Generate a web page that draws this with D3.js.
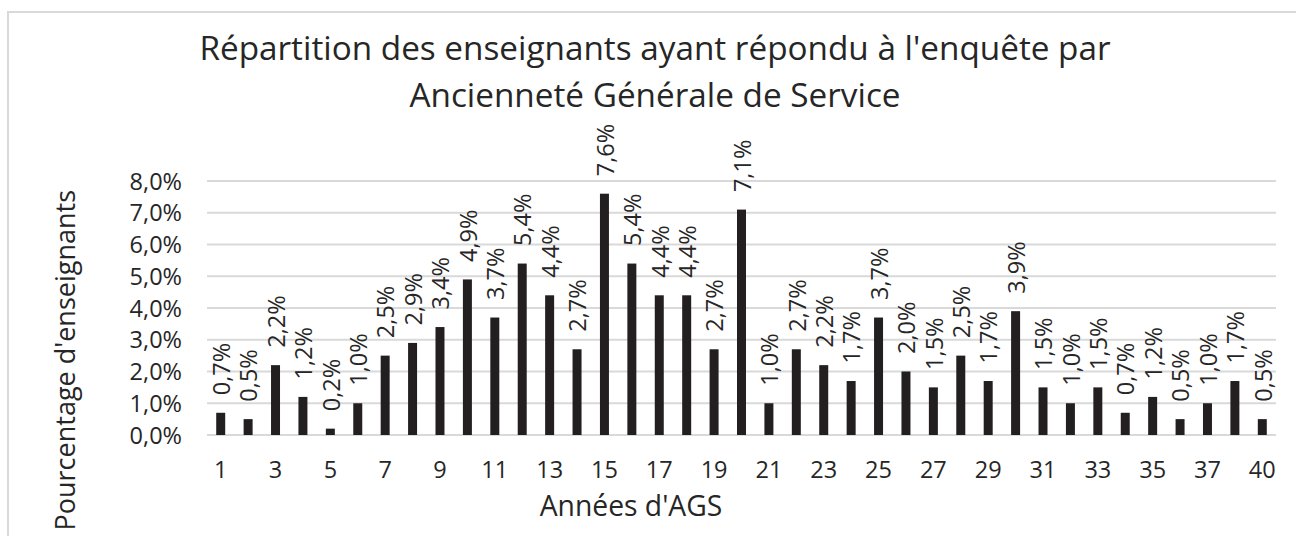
<!DOCTYPE html>
<html>
<head>
<meta charset="utf-8">
<script src="https://cdn.jsdelivr.net/npm/d3@7/dist/d3.min.js"></script>
<style>
  html, body { margin: 0; padding: 0; background: #ffffff; }
  svg { display: block; }
  text { font-family: "Open Sans", "Noto Sans", sans-serif; fill: #262626; }
</style>
</head>
<body>
<svg id="chart" width="1296" height="536"></svg>
<script>
// ---- Data ----
const titleLines = ["Répartition des enseignants ayant répondu à l'enquête par", "Ancienneté Générale de Service"];
const xAxisTitle = "Années d'AGS";
const yAxisTitle = "Pourcentage d'enseignants";
const categories = ["1","2","3","4","5","6","7","8","9","10","11","12","13","14","15","16","17","18","19","20",
                    "21","22","23","24","25","26","27","28","29","30","31","32","33","34","35","36","37","38","40"];
const values = [0.7, 0.5, 2.2, 1.2, 0.2, 1.0, 2.5, 2.9, 3.4, 4.9, 3.7, 5.4, 4.4, 2.7, 7.6, 5.4, 4.4, 4.4, 2.7, 7.1,
                1.0, 2.7, 2.2, 1.7, 3.7, 2.0, 1.5, 2.5, 1.7, 3.9, 1.5, 1.0, 1.5, 0.7, 1.2, 0.5, 1.0, 1.7, 0.5];
const xTickLabels = ["1","3","5","7","9","11","13","15","17","19","21","23","25","27","29","31","33","35","37","40"];
const yTicks = [0, 1, 2, 3, 4, 5, 6, 7, 8];

const fmt = v => v.toFixed(1).replace('.', ',') + '%';

// ---- Layout ----
const svg = d3.select("#chart");
const plot = { left: 207, right: 1276, top: 181, bottom: 435 };

const x = d3.scaleBand()
  .domain(categories)
  .range([plot.left, plot.right])
  .paddingInner(0.672)
  .paddingOuter(0.336);

const y = d3.scaleLinear()
  .domain([0, 8])
  .range([plot.bottom, plot.top]);

// chart border
svg.append("rect")
  .attr("x", 8).attr("y", 12)
  .attr("width", 1300).attr("height", 540)
  .attr("fill", "none")
  .attr("stroke", "#d9d9d9")
  .attr("stroke-width", 2);

// title
svg.append("g").selectAll("text")
  .data(titleLines)
  .join("text")
  .attr("x", 655)
  .attr("y", (d, i) => 60 + i * 47)
  .attr("text-anchor", "middle")
  .style("font-size", "33.3px")
  .text(d => d);

// gridlines
svg.append("g").selectAll("line")
  .data(yTicks)
  .join("line")
  .attr("x1", plot.left).attr("x2", plot.right)
  .attr("y1", d => y(d)).attr("y2", d => y(d))
  .attr("stroke", "#d9d9d9")
  .attr("stroke-width", 2);

// y axis labels
const yAxis = d3.axisLeft(y).tickValues(yTicks).tickSize(0).tickPadding(0)
  .tickFormat(d => fmt(d));
const gy = svg.append("g").attr("transform", `translate(${182},0)`).call(yAxis);
gy.select(".domain").remove();
gy.selectAll("text")
  .attr("font-family", null)
  .style("font-size", "23.5px")
  .attr("fill", null)
  .attr("dy", "0.35em");

// x axis labels
const xAxis = d3.axisBottom(x)
  .tickValues(categories.filter(c => xTickLabels.includes(c)))
  .tickSize(0).tickPadding(0);
const gx = svg.append("g").attr("transform", `translate(0,${470})`).call(xAxis);
gx.select(".domain").remove();
gx.selectAll("text")
  .attr("font-family", null)
  .style("font-size", "23.5px")
  .attr("fill", null)
  .attr("y", 0)
  .attr("dy", "0.35em");

// bars
svg.append("g").selectAll("rect")
  .data(values)
  .join("rect")
  .attr("x", (d, i) => x(categories[i]))
  .attr("width", x.bandwidth())
  .attr("y", d => y(d))
  .attr("height", d => y(0) - y(d))
  .attr("fill", "#231f20");

// data labels
svg.append("g").selectAll("text")
  .data(values)
  .join("text")
  .attr("transform", (d, i) => `translate(${x(categories[i]) + x.bandwidth() / 2 + 1},${y(d) - 17.5}) rotate(-90)`)
  .attr("text-anchor", "start")
  .attr("dy", "0.35em")
  .style("font-size", "23.5px")
  .text(d => fmt(d));

// x axis title
svg.append("text")
  .attr("x", 631).attr("y", 516)
  .attr("text-anchor", "middle")
  .style("font-size", "28.3px")
  .text(xAxisTitle);

// y axis title
svg.append("text")
  .attr("transform", `translate(75,190) rotate(-90)`)
  .attr("text-anchor", "end")
  .style("font-size", "27px")
  .text(yAxisTitle);
</script>
</body>
</html>
